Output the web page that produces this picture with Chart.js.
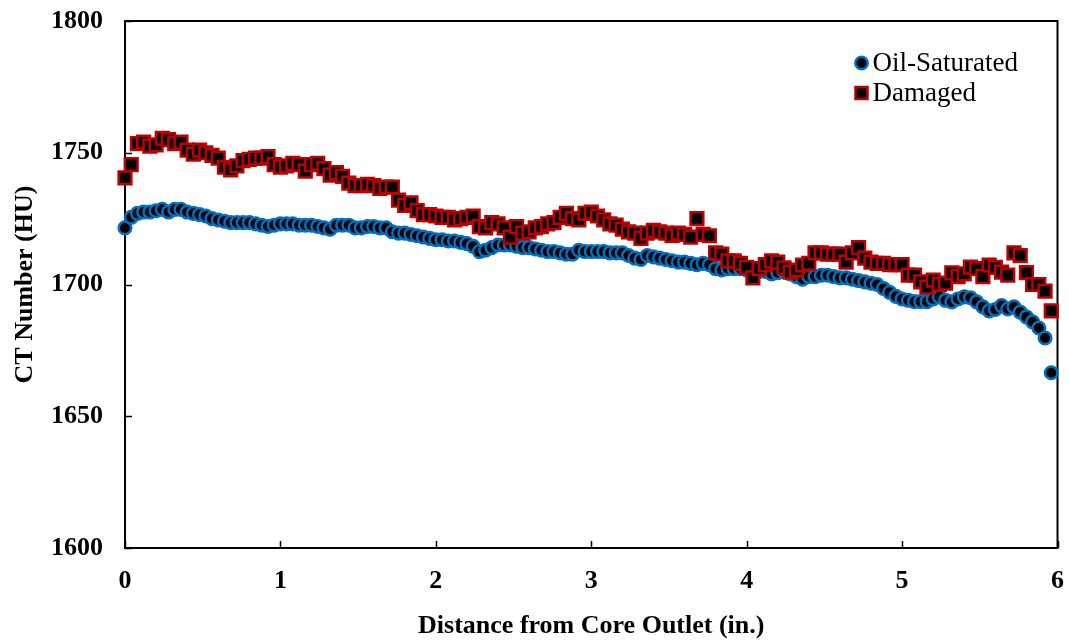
<!DOCTYPE html>
<html>
<head>
<meta charset="utf-8">
<title>CT Number profile</title>
<script src="https://cdn.jsdelivr.net/npm/chart.js@4.4.1/dist/chart.umd.min.js"></script>
<style>
    html, body { margin: 0; padding: 0; background: #fff; }
    #wrap { width: 1069px; height: 641px; position: relative; }
</style>
</head>
<body>
<div id="wrap"><canvas id="ctChart"></canvas></div>
<script>
// slice spacing along the core, inches
const sliceStep = 0.04;

const oilSaturated = [
    1721.5, 1725.5, 1727, 1727.5, 1727.5, 1728, 1728.5, 1727.5, 1728.5, 1728.5,
    1727.5, 1727, 1726.5, 1726, 1725, 1724.5, 1724, 1723.5, 1723.5, 1723.5,
    1723.5, 1723, 1722.5, 1722, 1722.5, 1723, 1723, 1723, 1722.5, 1722.5,
    1722.5, 1722, 1721.5, 1721, 1722.5, 1722.5, 1722.5, 1721.5, 1721.5, 1722,
    1722, 1721.5, 1721.5, 1720, 1719.5, 1719.5, 1719, 1718.5, 1718, 1717.5,
    1717, 1717, 1716.5, 1716.5, 1716, 1715.5, 1714.5, 1712.5, 1713, 1714,
    1715, 1715, 1715, 1714.5, 1714, 1714, 1713.5, 1713, 1712.5, 1712.5,
    1712, 1711.5, 1711.5, 1713, 1712.5, 1712.5, 1712.5, 1712.5, 1712, 1712,
    1712, 1711, 1710, 1709.5, 1711, 1710.5, 1710, 1709.5, 1709, 1708.5,
    1708.5, 1708, 1707.5, 1708, 1707.5, 1706, 1705.5, 1706, 1706, 1706,
    1705.5, 1705.5, 1705, 1705, 1704, 1704.5, 1705, 1704, 1703, 1702,
    1703, 1703, 1703.5, 1703.5, 1703, 1702.5, 1702.5, 1702, 1701.5, 1701,
    1700.5, 1700, 1698.5, 1697, 1695.5, 1694.5, 1694, 1693.5, 1693.5, 1693.5,
    1694.5, 1695.3, 1694, 1693.4, 1694.5, 1695.3, 1695, 1693.4, 1691.5, 1690,
    1690.5, 1692, 1690.7, 1691.5, 1689.5, 1687.7, 1685.8, 1683.5, 1679.7, 1666.5
];

const damaged = [
    1740.5, 1745.5, 1753.5, 1754, 1752.5, 1753, 1755.5, 1755, 1753.5, 1754,
    1751, 1749.5, 1751, 1750, 1749, 1748, 1744.5, 1743.5, 1745, 1747,
    1747.5, 1748, 1748, 1748.5, 1745.5, 1744.5, 1745, 1746, 1745.5, 1743,
    1745.5, 1746, 1744, 1741.5, 1742.5, 1741, 1738.5, 1737.5, 1737.5, 1738,
    1737.5, 1736.5, 1737, 1737, 1732, 1730, 1731, 1728, 1726.5, 1726.5,
    1726, 1725.5, 1725.5, 1724.5, 1725, 1725.5, 1726, 1722, 1721.5, 1723.5,
    1723, 1721.5, 1718, 1722, 1719.5, 1720, 1721.5, 1722, 1723, 1723.5,
    1725.5, 1727, 1725, 1724.5, 1727, 1727.5, 1726, 1724.5, 1723, 1722.5,
    1721, 1720, 1719.5, 1717.5, 1719.5, 1720.5, 1720, 1719.5, 1718.5, 1719.5,
    1719, 1718, 1725, 1719, 1718.5, 1712, 1711.5, 1709, 1709, 1708,
    1706.5, 1702.5, 1706, 1707.5, 1709, 1708.5, 1706.3, 1704.7, 1705.5, 1707.4,
    1708, 1712, 1712, 1711.5, 1711.5, 1711.5, 1708.5, 1712, 1714, 1710,
    1708.5, 1708, 1708, 1707.5, 1707.5, 1707.5, 1703.6, 1703.6, 1701, 1699,
    1701.7, 1700, 1700.5, 1704.4, 1703, 1704, 1706.6, 1706, 1703, 1707.4,
    1706.5, 1704.7, 1703.6, 1712, 1711, 1704.5, 1700, 1700, 1697.5, 1690
];

const xTicks = [0, 1, 2, 3, 4, 5, 6];
const yTicks = [1600, 1650, 1700, 1750, 1800];

const serif = "'Liberation Serif', 'Times New Roman', serif";

function toPoints(values) {
    return values.map((v, i) => ({ x: +(i * sliceStep).toFixed(2), y: v }));
}

// box around the plot and inward tick marks
const frame = {
    id: 'frame',
    beforeDatasetsDraw(chart) {
        const { ctx, chartArea: a, scales } = chart;
        ctx.save();
        ctx.strokeStyle = '#000';
        ctx.lineWidth = 2;
        ctx.strokeRect(a.left, a.top, a.right - a.left, a.bottom - a.top);
        ctx.lineWidth = 1.5;
        ctx.beginPath();
        xTicks.forEach(t => {
            const px = Math.round(scales.x.getPixelForValue(t)) + 0.5;
            ctx.moveTo(px, a.bottom);
            ctx.lineTo(px, a.bottom - 7);
        });
        yTicks.forEach(t => {
            const py = Math.round(scales.y.getPixelForValue(t)) + 0.5;
            ctx.moveTo(a.left, py);
            ctx.lineTo(a.left + 7, py);
        });
        ctx.stroke();
        ctx.restore();
    }
};

// legend in the top right corner of the plot
const cornerLegend = {
    id: 'cornerLegend',
    afterDraw(chart) {
        const { ctx, chartArea: a } = chart;
        const items = [
            { label: 'Oil-Saturated', shape: 'circle', stroke: '#0070C0' },
            { label: 'Damaged', shape: 'rect', stroke: '#C00000' }
        ];
        ctx.save();
        ctx.font = '27px ' + serif;
        ctx.textBaseline = 'middle';
        items.forEach((it, i) => {
            const cx = a.right - 196;
            const cy = a.top + 42 + i * 30;
            ctx.beginPath();
            if (it.shape === 'circle') {
                ctx.arc(cx, cy, 6.2, 0, Math.PI * 2);
            } else {
                ctx.rect(cx - 6, cy - 6, 12, 12);
            }
            ctx.fillStyle = '#000';
            ctx.fill();
            ctx.lineWidth = 2.5;
            ctx.strokeStyle = it.stroke;
            ctx.stroke();
            ctx.fillStyle = '#000';
            ctx.fillText(it.label, cx + 11, cy + 1);
        });
        ctx.restore();
    }
};

new Chart(document.getElementById('ctChart'), {
    type: 'scatter',
    data: {
        datasets: [
            {
                label: 'Oil-Saturated',
                data: toPoints(oilSaturated),
                pointStyle: 'circle',
                pointRadius: 6.3,
                pointBorderWidth: 2.5,
                backgroundColor: '#000',
                borderColor: '#0070C0',
                order: 1,
                clip: false
            },
            {
                label: 'Damaged',
                data: toPoints(damaged),
                pointStyle: 'rect',
                pointRadius: 9,
                pointBorderWidth: 2.5,
                backgroundColor: '#000',
                borderColor: '#C00000',
                order: 0,
                clip: false
            }
        ]
    },
    options: {
        responsive: true,
        maintainAspectRatio: false,
        animation: false,
        events: [],
        layout: { padding: { left: 0, top: 21, right: 11, bottom: 0 } },
        plugins: {
            legend: { display: false },
            tooltip: { enabled: false }
        },
        scales: {
            x: {
                type: 'linear',
                min: 0,
                max: 6,
                afterBuildTicks: s => { s.ticks = xTicks.map(v => ({ value: v })); },
                afterFit: s => {
                    s.height = 93;
                    s.paddingLeft = 0;
                    s.paddingRight = 0;
                },
                grid: { display: false },
                border: { display: false },
                ticks: {
                    padding: 10,
                    color: '#000',
                    callback: v => String(v),
                    font: { family: serif, size: 26, weight: 'bold' }
                },
                title: {
                    display: true,
                    text: 'Distance from Core Outlet (in.)',
                    color: '#000',
                    padding: { top: 0, bottom: -1 },
                    font: { family: serif, size: 26, weight: 'bold' }
                }
            },
            y: {
                min: 1600,
                max: 1800,
                afterBuildTicks: s => { s.ticks = yTicks.map(v => ({ value: v })); },
                afterFit: s => {
                    s.width = 125;
                    s.paddingTop = 0;
                    s.paddingBottom = 0;
                },
                grid: { display: false },
                border: { display: false },
                ticks: {
                    padding: 14,
                    color: '#000',
                    callback: v => String(v),
                    font: { family: serif, size: 26, weight: 'bold' }
                },
                title: {
                    display: true,
                    text: 'CT Number (HU)',
                    color: '#000',
                    padding: { top: 10, bottom: 0 },
                    font: { family: serif, size: 26, weight: 'bold' }
                }
            }
        }
    },
    plugins: [frame, cornerLegend]
});
</script>
</body>
</html>
